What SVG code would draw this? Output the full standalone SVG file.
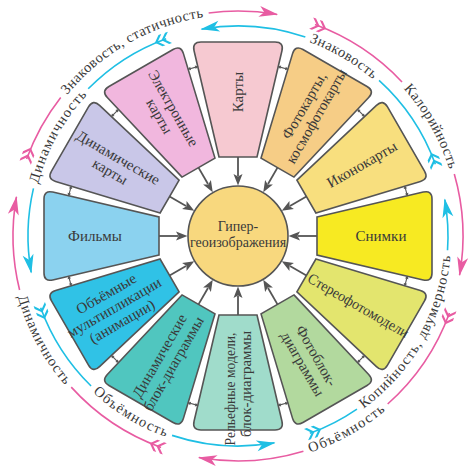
<svg xmlns="http://www.w3.org/2000/svg" xmlns:xlink="http://www.w3.org/1999/xlink" width="474" height="472" viewBox="0 0 474 472">
<style>
.pet{stroke:#555;stroke-width:1.6}
.pt{font-family:"Liberation Serif","Times New Roman",serif;font-size:15px;fill:#3a3a3a;text-anchor:middle}
.ct{font-family:"Liberation Serif","Times New Roman",serif;font-size:14px;fill:#3a3a3a;text-anchor:middle}
.rt{font-family:"Liberation Serif","Times New Roman",serif;font-size:14.5px;fill:#3a3a3a}
.pk{fill:none;stroke:#e85ca2;stroke-width:1.6}
.cy{fill:none;stroke:#1fbfe4;stroke-width:1.6}
</style>
<defs>
<path id="petal" d="M79,-19 L185.24,-43.94 Q194,-46 194,-37 L194,37 Q194,46 185.24,43.94 L79,19 Z"/>
<g id="ia"><line x1="79" y1="0" x2="60" y2="0" stroke="#555" stroke-width="1.8"/><path d="M50.5,0 L62,-4.5 L59.5,0 L62,4.5Z" fill="#555"/></g>
<g id="cn"><line x1="174" y1="-3" x2="174" y2="3" stroke="#555" stroke-width="1.1"/><path d="M174,-5.5 L172.2,-2.4 L175.8,-2.4Z M174,5.5 L172.2,2.4 L175.8,2.4Z" fill="#555"/></g>
<marker id="hp" markerUnits="userSpaceOnUse" markerWidth="30" markerHeight="30" refX="0" refY="0" orient="auto" overflow="visible"><path d="M1,0 L-18,-5.5 L-13,0 L-18,5.5 Z" fill="#e85ca2"/></marker>
<marker id="hc" markerUnits="userSpaceOnUse" markerWidth="30" markerHeight="30" refX="0" refY="0" orient="auto" overflow="visible"><path d="M1,0 L-18,-5.5 L-13,0 L-18,5.5 Z" fill="#1fbfe4"/></marker>
<marker id="fp" markerUnits="userSpaceOnUse" markerWidth="30" markerHeight="30" refX="0" refY="0" orient="auto" overflow="visible"><path d="M-4,-6 L-1,-6 L5,0 L-1,6 L-4,6 L2,0 Z M3,-6 L6,-6 L12,0 L6,6 L3,6 L9,0 Z" fill="#e85ca2"/></marker>
<marker id="fc" markerUnits="userSpaceOnUse" markerWidth="30" markerHeight="30" refX="0" refY="0" orient="auto" overflow="visible"><path d="M-4,-6 L-1,-6 L5,0 L-1,6 L-4,6 L2,0 Z M3,-6 L6,-6 L12,0 L6,6 L3,6 L9,0 Z" fill="#1fbfe4"/></marker>
<path id="l1" d="M67.01,95.04 A221.6,221.6 0 0 1 238,14.4"/>
<path id="l2" d="M403.45,88.59 A221.6,221.6 0 0 1 458.76,216.69"/>
<path id="l3" d="M310.08,452.73 A228.4,228.4 0 0 0 412.96,382.81"/>
<path id="l4" d="M17.8,296.66 A228.4,228.4 0 0 0 91.18,410.96"/>
<path id="l5" d="M38.07,183.92 A206.6,206.6 0 0 1 119.5,66.76"/>
<path id="l6" d="M309.34,42.06 A206.6,206.6 0 0 1 396.26,103.2"/>
<path id="l7" d="M363.44,408.64 A213.4,213.4 0 0 0 450.59,217.4"/>
<path id="l8" d="M92.74,392.32 A213.4,213.4 0 0 0 200.94,446.16"/>
</defs>
<rect width="474" height="472" fill="#ffffff"/>

<g id="ring">
<path class="pk" marker-start="url(#fp)" d="M26.6,159.05 A225,225 0 0 1 60.7,97.47"/>
<path class="pk" marker-end="url(#hp)" d="M208.63,12.93 A225,225 0 0 1 277.07,14.42"/>
<path class="pk" marker-start="url(#fp)" d="M314.95,24.57 A225,225 0 0 1 402.02,81.98"/>
<path class="pk" marker-end="url(#hp)" d="M454.3,173.98 A225,225 0 0 1 459.58,275.07"/>
<path class="pk" marker-start="url(#fp)" d="M449.43,312.95 A225,225 0 0 1 387.67,403.99"/>
<path class="pk" marker-end="url(#hp)" d="M303.41,451.28 A225,225 0 0 1 198.93,457.58"/>
<path class="pk" marker-start="url(#fp)" d="M161.05,447.43 A225,225 0 0 1 71.23,387.13"/>
<path class="pk" marker-end="url(#hp)" d="M19.59,290.05 A225,225 0 0 1 16.42,196.93"/>
<path class="cy" marker-start="url(#fc)" d="M166.18,38.66 A210,210 0 0 0 88.21,88.81"/>
<path class="cy" marker-end="url(#hc)" d="M33.46,188.39 A210,210 0 0 0 31.19,272.47"/>
<path class="cy" marker-start="url(#fc)" d="M40.66,307.82 A210,210 0 0 0 91.06,386.05"/>
<path class="cy" marker-end="url(#hc)" d="M172.06,435.37 A210,210 0 0 0 274.46,442.81"/>
<path class="cy" marker-start="url(#fc)" d="M309.82,433.34 A210,210 0 0 0 356.94,409.06"/>
<path class="cy" marker-end="url(#hc)" d="M447.52,250.28 A210,210 0 0 0 444.81,199.53"/>
<path class="cy" marker-start="url(#fc)" d="M435.34,164.18 A210,210 0 0 0 379.06,80.35"/>
<path class="cy" marker-end="url(#hc)" d="M305.33,37.09 A210,210 0 0 0 201.54,29.19"/>
<text class="rt"><textPath href="#l1" xlink:href="#l1" textLength="160.5" lengthAdjust="spacing">Знаковость, статичность</textPath></text>
<text class="rt"><textPath href="#l2" xlink:href="#l2" textLength="93.6" lengthAdjust="spacing">Калорийность</textPath></text>
<text class="rt"><textPath href="#l3" xlink:href="#l3" textLength="86.9" lengthAdjust="spacing">Объёмность</textPath></text>
<text class="rt"><textPath href="#l4" xlink:href="#l4" textLength="100.9" lengthAdjust="spacing">Динамичность</textPath></text>
<text class="rt"><textPath href="#l5" xlink:href="#l5" textLength="102.4" lengthAdjust="spacing">Динамичность</textPath></text>
<text class="rt"><textPath href="#l6" xlink:href="#l6" textLength="73.9" lengthAdjust="spacing">Знаковость</textPath></text>
<text class="rt"><textPath href="#l7" xlink:href="#l7" textLength="181" lengthAdjust="spacing">Копийность, двумерность</textPath></text>
<text class="rt"><textPath href="#l8" xlink:href="#l8" textLength="86" lengthAdjust="spacing">Объёмность</textPath></text>
</g>

<g id="p-karty"><use href="#petal" xlink:href="#petal" class="pet" fill="#f6c9d1" transform="translate(238,236) rotate(-90)"/>
<text class="pt" transform="translate(238,92) rotate(-90)" y="5">Карты</text></g>
<g id="p-fotokarty"><use href="#petal" xlink:href="#petal" class="pet" fill="#f6cd86" transform="translate(238,236) rotate(-60)"/>
<text class="pt" transform="translate(309.5,112.16) rotate(-60)"><tspan x="3" y="-3">Фотокарты,</tspan><tspan x="0" y="13">космофотокарты</tspan></text></g>
<g id="p-ikonokarty"><use href="#petal" xlink:href="#petal" class="pet" fill="#f8df7e" transform="translate(238,236) rotate(-30)"/>
<text class="pt" transform="translate(361.84,164.5) rotate(-30)" y="5">Иконокарты</text></g>
<g id="p-snimki"><use href="#petal" xlink:href="#petal" class="pet" fill="#f7ea22" transform="translate(238,236)"/>
<text class="pt" x="381" y="241">Снимки</text></g>
<g id="p-stereo"><use href="#petal" xlink:href="#petal" class="pet" fill="#e3e56e" transform="translate(238,236) rotate(30)"/>
<text class="pt" transform="translate(358.4,305.5) rotate(30)" y="5" textLength="114" lengthAdjust="spacingAndGlyphs">Стереофотомодели</text></g>
<g id="p-fotoblok"><use href="#petal" xlink:href="#petal" class="pet" fill="#b2d99e" transform="translate(238,236) rotate(60)"/>
<text class="pt" transform="translate(309.5,359.84) rotate(60)"><tspan x="0" y="-3">Фотоблок-</tspan><tspan x="0" y="13">диаграммы</tspan></text></g>
<g id="p-relief"><use href="#petal" xlink:href="#petal" class="pet" fill="#a0dccb" transform="translate(238,236) rotate(90)"/>
<text class="pt" transform="translate(238,385) rotate(-90)"><tspan x="-4" y="-3" textLength="113" lengthAdjust="spacingAndGlyphs">Рельефные модели,</tspan><tspan x="1" y="13">блок-диаграммы</tspan></text></g>
<g id="p-dinblok"><use href="#petal" xlink:href="#petal" class="pet" fill="#50c6bf" transform="translate(238,236) rotate(120)"/>
<text class="pt" transform="translate(166.5,359.84) rotate(-60)"><tspan x="0" y="-3">Динамические</tspan><tspan x="0" y="13">блок-диаграммы</tspan></text></g>
<g id="p-anim"><use href="#petal" xlink:href="#petal" class="pet" fill="#30c2e6" transform="translate(238,236) rotate(150)"/>
<text class="pt" transform="translate(114.16,307.5) rotate(-30)"><tspan x="0" y="-11">Объёмные</tspan><tspan x="0" y="5">мультипликации</tspan><tspan x="0" y="21">(анимации)</tspan></text></g>
<g id="p-filmy"><use href="#petal" xlink:href="#petal" class="pet" fill="#8bd2ef" transform="translate(238,236) rotate(180)"/>
<text class="pt" x="95" y="241">Фильмы</text></g>
<g id="p-dinkarty"><use href="#petal" xlink:href="#petal" class="pet" fill="#c9c7e8" transform="translate(238,236) rotate(210)"/>
<text class="pt" transform="translate(114.16,164.5) rotate(30)"><tspan x="0" y="-3">Динамические</tspan><tspan x="0" y="13">карты</tspan></text></g>
<g id="p-elkarty"><use href="#petal" xlink:href="#petal" class="pet" fill="#f1b7de" transform="translate(238,236) rotate(240)"/>
<text class="pt" transform="translate(166.5,112.16) rotate(60)"><tspan x="0" y="-3">Электронные</tspan><tspan x="0" y="13">карты</tspan></text></g>

<g id="center"><circle cx="238" cy="236" r="50" fill="#f8d87e" stroke="#555" stroke-width="1.6"/>
<text class="ct" x="238" y="231">Гипер-</text><text class="ct" x="238" y="247">геоизображения</text></g>

<g id="connectors">
<use href="#ia" xlink:href="#ia" transform="translate(238,236) rotate(-90)"/>
<use href="#ia" xlink:href="#ia" transform="translate(238,236) rotate(-60)"/>
<use href="#ia" xlink:href="#ia" transform="translate(238,236) rotate(-30)"/>
<use href="#ia" xlink:href="#ia" transform="translate(238,236)"/>
<use href="#ia" xlink:href="#ia" transform="translate(238,236) rotate(30)"/>
<use href="#ia" xlink:href="#ia" transform="translate(238,236) rotate(60)"/>
<use href="#ia" xlink:href="#ia" transform="translate(238,236) rotate(90)"/>
<use href="#ia" xlink:href="#ia" transform="translate(238,236) rotate(120)"/>
<use href="#ia" xlink:href="#ia" transform="translate(238,236) rotate(150)"/>
<use href="#ia" xlink:href="#ia" transform="translate(238,236) rotate(180)"/>
<use href="#ia" xlink:href="#ia" transform="translate(238,236) rotate(210)"/>
<use href="#ia" xlink:href="#ia" transform="translate(238,236) rotate(240)"/>
<use href="#cn" xlink:href="#cn" transform="translate(238,236) rotate(-105)"/>
<use href="#cn" xlink:href="#cn" transform="translate(238,236) rotate(-75)"/>
<use href="#cn" xlink:href="#cn" transform="translate(238,236) rotate(-45)"/>
<use href="#cn" xlink:href="#cn" transform="translate(238,236) rotate(-15)"/>
<use href="#cn" xlink:href="#cn" transform="translate(238,236) rotate(15)"/>
<use href="#cn" xlink:href="#cn" transform="translate(238,236) rotate(45)"/>
<use href="#cn" xlink:href="#cn" transform="translate(238,236) rotate(75)"/>
<use href="#cn" xlink:href="#cn" transform="translate(238,236) rotate(105)"/>
<use href="#cn" xlink:href="#cn" transform="translate(238,236) rotate(135)"/>
<use href="#cn" xlink:href="#cn" transform="translate(238,236) rotate(165)"/>
<use href="#cn" xlink:href="#cn" transform="translate(238,236) rotate(195)"/>
<use href="#cn" xlink:href="#cn" transform="translate(238,236) rotate(225)"/>
</g>
</svg>
